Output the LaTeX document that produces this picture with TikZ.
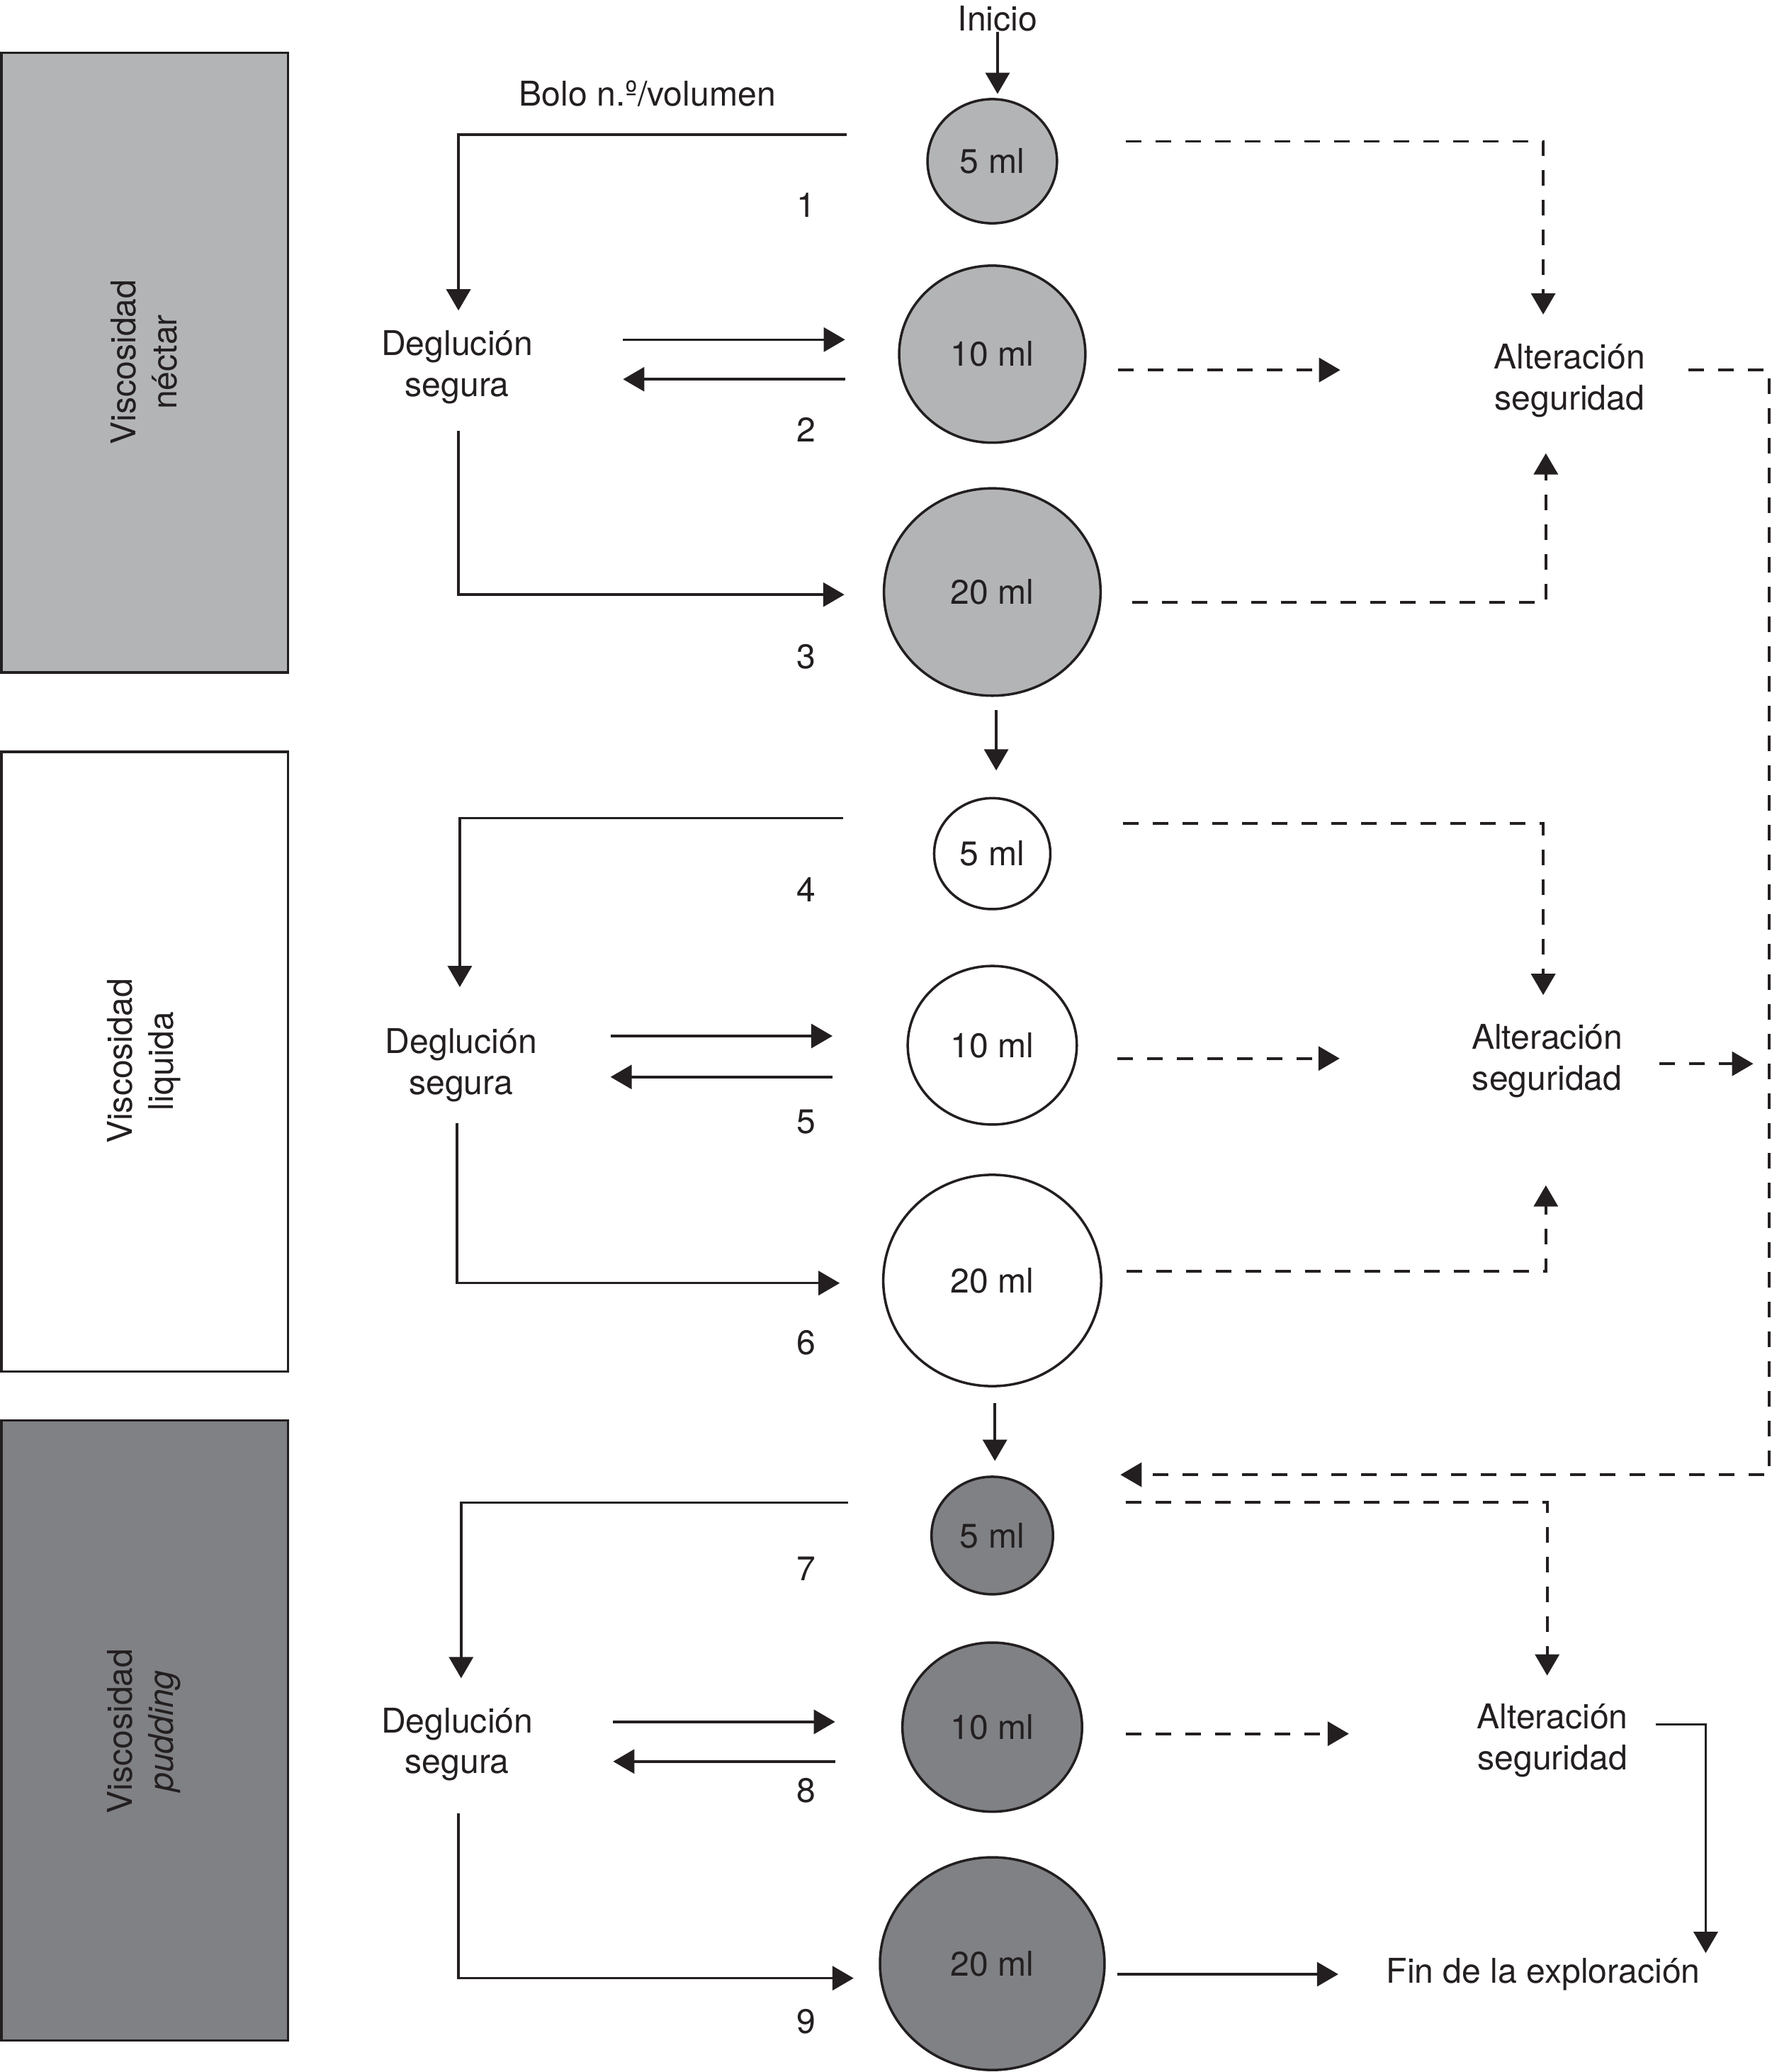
\documentclass[tikz,border=0pt]{standalone}
\usepackage{fontspec}
\setmainfont{TeX Gyre Heros}
\usetikzlibrary{arrows.meta,
                calc,
                shapes.geometric
            }
\definecolor{ink}{RGB}{35,31,32}
\definecolor{nectar}{RGB}{179,180,182}
\definecolor{pudding}{RGB}{128,129,133}

\begin{document}
\begin{tikzpicture}[x=0.01864cm, y=-0.01864cm,
            font=\fontsize{13.7}{16.4}\selectfont, text=ink,
            every node/.style={inner sep=0pt},
            vol/.style={ellipse, draw=ink, line width=1pt, inner sep=0pt},
            panel/.style={draw=ink, line width=1pt},
            link/.style={draw=ink, line width=1pt},
            arr/.style={link, -{Triangle[length=0.3cm, width=0.34cm]}},
            darr/.style={arr, line width=1.1pt, dash pattern=on 0.22cm off 0.2cm}]
            \useasboundingbox (0,0) rectangle (1341,1568);

            \draw[panel, fill=nectar] (1,40) rectangle (218,509);
            \draw[panel, fill=white] (1,569) rectangle (218,1038);
            \draw[panel, fill=pudding] (1,1075) rectangle (218,1544);
            \node[rotate=90, align=center] (vn) at (109,274) {Viscosidad\\néctar};
            \node[rotate=90, align=center] (vl) at (109,803) {Viscosidad\\liquida};
            \node[rotate=90, align=center] (vp) at (109,1310) {Viscosidad\\\textit{pudding}};

            \node (inicio) at (755,14) {Inicio};
            \node (bolo) at (490,71) {Bolo n.º/volumen};

            \node[vol, fill=nectar, minimum width=1.827cm, minimum height=1.752cm] (n5) at (751,122) {5 ml};
            \node[vol, fill=nectar, minimum width=2.628cm, minimum height=2.498cm] (n10) at (751,268) {10 ml};
            \node[vol, fill=nectar, minimum width=3.057cm, minimum height=2.926cm] (n20) at (751,448) {20 ml};
            \node[vol, fill=white, minimum width=1.640cm, minimum height=1.566cm] (l5) at (751,646) {5 ml};
            \node[vol, fill=white, minimum width=2.386cm, minimum height=2.237cm] (l10) at (751,791) {10 ml};
            \node[vol, fill=white, minimum width=3.076cm, minimum height=2.982cm] (l20) at (751,969) {20 ml};
            \node[vol, fill=pudding, minimum width=1.715cm, minimum height=1.659cm] (p5) at (751,1162) {5 ml};
            \node[vol, fill=pudding, minimum width=2.535cm, minimum height=2.386cm] (p10) at (751,1307) {10 ml};
            \node[vol, fill=pudding, minimum width=3.169cm, minimum height=3.001cm] (p20) at (751,1486) {20 ml};

            \node[align=center] (deg1) at (346,278) {Deglución\\segura};
            \node[align=center] (deg2) at (349,806) {Deglución\\segura};
            \node[align=center] (deg3) at (346,1320) {Deglución\\segura};
            \node[align=center] (alt1) at (1188,288) {Alteración\\seguridad};
            \node[align=center] (alt2) at (1171,803) {Alteración\\seguridad};
            \node[align=center] (alt3) at (1175,1317) {Alteración\\seguridad};
            \node (fin) at (1168,1494) {Fin de la exploración};

            \node (k1) at (610,155) {1};
            \node (k2) at (610,325) {2};
            \node (k3) at (610,497) {3};
            \node (k4) at (610,673) {4};
            \node (k5) at (610,849) {5};
            \node (k6) at (610,1016) {6};
            \node (k7) at (610,1187) {7};
            \node (k8) at (610,1355) {8};
            \node (k9) at (610,1530) {9};

            \draw[arr] (inicio.south) -- ($(inicio.south |- n5.north)+(0,-3)$);
            \draw[arr] ($(n20.south)+(3,10)$) -- ($(l5.north)+(3,-20)$);
            \draw[arr] ($(l20.south)+(2,12)$) -- ($(p5.north)+(2,-11)$);

            \draw[arr] ($(n5.west)+(-60,-20)$) -| ($(deg1)+(1,-43)$);
            \draw[arr] ($(n10.west)+(-208,-11)$) -- ($(n10.west)+(-40,-11)$);
            \draw[arr] ($(n10.west)+(-40,19)$) -- ($(n10.west)+(-208,19)$);
            \draw[arr] ($(deg1)+(1,48)$) |- ($(n20.west)+(-29,2)$);
            \draw[darr] ($(n5.east)+(51,-15)$) -| ($(alt1)+(-20,-50)$);
            \draw[darr] ($(n10.east)+(24,12)$) -- ($(n10.east)+(192,12)$);
            \draw[darr] ($(n20.east)+(23,8)$) -| ($(alt1)+(-18,55)$);
            \draw[darr] ($(alt1)+(90,-8)$) -- ++(61,0) |- ($(p5)+(97,-46)$);

            \draw[arr] ($(l5.west)+(-68,-27)$) -| ($(deg2)+(-1,-59)$);
            \draw[arr] ($(l10.west)+(-224,-7)$) -- ($(l10.west)+(-56,-7)$);
            \draw[arr] ($(l10.west)+(-56,24)$) -- ($(l10.west)+(-224,24)$);
            \draw[arr] ($(deg2)+(-3,44)$) |- ($(l20.west)+(-32,2)$);
            \draw[darr] ($(l5.east)+(54,-23)$) -| ($(alt2)+(-3,-50)$);
            \draw[darr] ($(l10.east)+(30,10)$) -- ($(l10.east)+(198,10)$);
            \draw[darr] ($(l20.east)+(18,-7)$) -| ($(alt2)+(-1,94)$);
            \draw[darr] ($(alt2)+(85,2)$) -- ++(71,0);

            \draw[arr] ($(p5.west)+(-62,-25)$) -| ($(deg3)+(3,-50)$);
            \draw[arr] ($(p10.west)+(-218,-4)$) -- ($(p10.west)+(-50,-4)$);
            \draw[arr] ($(p10.west)+(-50,26)$) -- ($(p10.west)+(-218,26)$);
            \draw[arr] ($(deg3)+(1,52)$) |- ($(p20.west)+(-19,11)$);
            \draw[darr] ($(p5.east)+(54,-25)$) -| ($(alt3)+(-4,-49)$);
            \draw[darr] ($(p10.east)+(32,5)$) -- ($(p10.east)+(201,5)$);
            \draw[arr] ($(alt3)+(78,-12)$) -| ($(fin)+(123,-16)$);
            \draw[arr] ($(p20.east)+(9,8)$) -- ($(fin.west)+(-36,0)$);
        \end{tikzpicture}
\end{document}
